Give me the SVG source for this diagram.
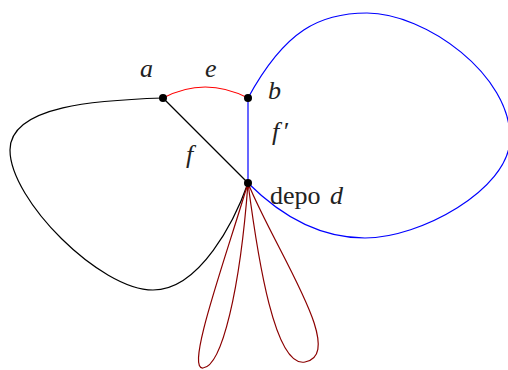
<svg xmlns="http://www.w3.org/2000/svg" width="508" height="370" viewBox="0 0 508 370">
<style>
.e{fill:none;stroke-width:1.2}
.n{fill:#000}
.t{font-family:"Liberation Serif","DejaVu Serif",serif;font-size:26px;fill:#222}
.i{font-style:italic}
</style>
<rect width="508" height="370" fill="#fff"/>
<g id="connectors">
<path class="e" stroke="#000" d="M163,98 C100,100 10,105 10,150 C10,200 100,290 153,290 C200,290 235,220 248,183"/>
<path class="e" stroke="#000" d="M163,98 L248,183"/>
<path class="e" stroke="#f00" d="M163,98 Q205,76 248,98"/>
<path class="e" stroke="#00f" d="M248,98 L248,183"/>
<path class="e" stroke="#00f" d="M248,98 C285,30 320,13 367,13 C425,13 512,75 510,140 C508,190 420,238 365,238 C315,238 275,210 248,183"/>
<path class="e" stroke="#8b0000" d="M248,183 C225,260 185,370 203,368 C222,366 240,290 248,183"/>
<path class="e" stroke="#8b0000" d="M248,183 C258,260 275,368 305,362 C348,354 275,250 248,183"/>
</g>
<g id="node-a"><circle class="n" cx="163" cy="98" r="4"/><text class="t i" x="140" y="77">a</text></g>
<g id="node-b"><circle class="n" cx="248" cy="98" r="4"/><text class="t i" x="268" y="99">b</text></g>
<g id="node-d"><circle class="n" cx="248" cy="183" r="4"/><text class="t" x="270" y="204" word-spacing="3">depo <tspan class="i">d</tspan></text></g>
<g id="labels">
<text class="t i" x="205" y="77">e</text>
<text class="t i" x="272" y="140">f<tspan dx="3">′</tspan></text>
<text class="t i" x="186" y="163">f</text>
</g>
</svg>
